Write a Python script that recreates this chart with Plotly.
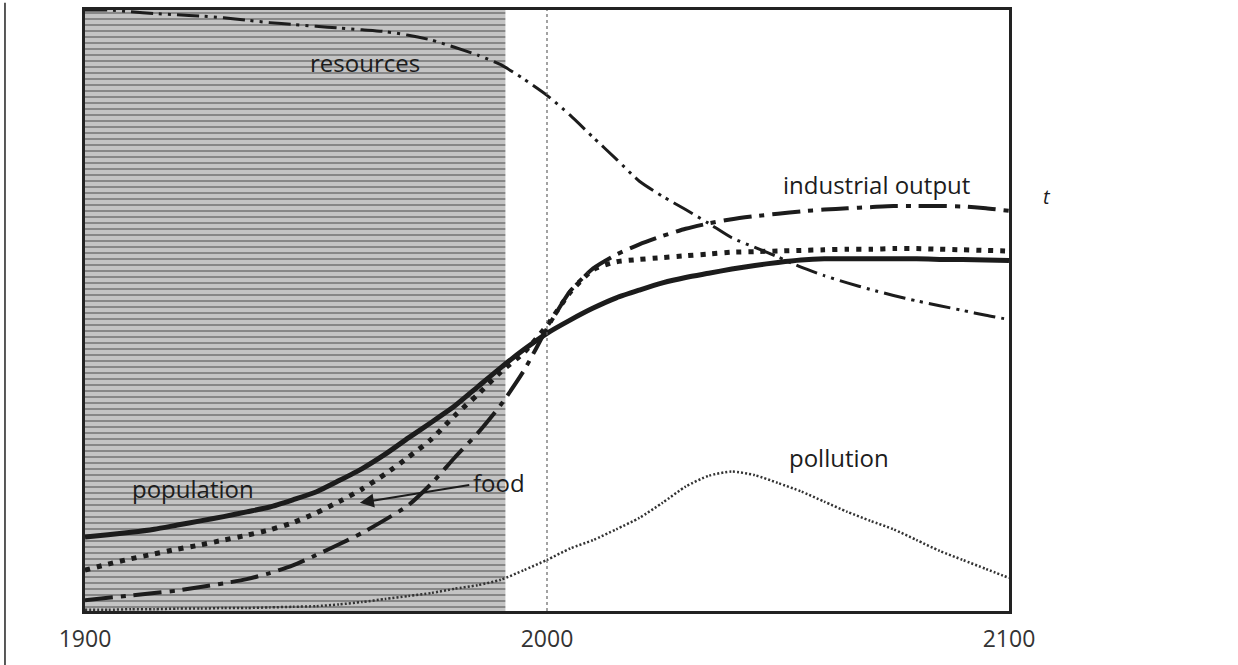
import plotly.graph_objects as go

# years on the x axis, one point every five years
years = list(range(1900, 2101, 5))

# values, scale 0 (bottom of frame) .. 100 (top of frame)
resources = [100, 100, 99.7, 99.4, 99.2, 99.0, 98.7, 98.3, 97.9, 97.6, 97.3,
             97.0, 96.7, 96.4, 95.8, 95.0, 93.8, 92.5, 90.9, 88.5, 85.8,
             82.5, 78.8, 75.2, 71.5, 69.0, 66.8, 64.5, 62.1, 60.5, 58.9,
             57.2, 55.8, 54.6, 53.5, 52.5, 51.6, 50.8, 50.0, 49.2, 48.5]
industrial_output = [1.8, 2.2, 2.6, 3.0, 3.4, 4.0, 4.6, 5.3, 6.3, 7.6, 9.3,
                     11.1, 13.0, 15.2, 17.6, 21.2, 25.5, 29.6, 34.3, 40.0, 47.0,
                     53.2, 57.0, 59.3, 61.0, 62.4, 63.6, 64.5, 65.2, 65.7, 66.1,
                     66.5, 66.8, 67.0, 67.2, 67.4, 67.4, 67.4, 67.3, 67.0, 66.6]
food = [6.8, 7.8, 8.7, 9.5, 10.3, 11.0, 11.8, 12.6, 13.5, 14.7, 16.3,
        18.2, 20.3, 22.8, 25.6, 28.6, 32.5, 36.0, 39.8, 43.0, 47.5,
        53.0, 56.8, 58.1, 58.5, 58.8, 59.1, 59.4, 59.7, 59.8, 59.9,
        60.0, 60.1, 60.2, 60.2, 60.3, 60.3, 60.2, 60.1, 60.0, 59.9]
population = [12.3, 12.7, 13.1, 13.6, 14.3, 15.0, 15.7, 16.5, 17.3, 18.5, 19.8,
              21.7, 23.7, 26.1, 28.8, 31.4, 34.1, 37.3, 40.5, 43.5, 46.2,
              48.4, 50.4, 52.1, 53.4, 54.6, 55.5, 56.2, 56.9, 57.5, 58.0,
              58.4, 58.6, 58.6, 58.6, 58.6, 58.6, 58.5, 58.5, 58.4, 58.3]
pollution = [0.2, 0.2, 0.3, 0.3, 0.4, 0.4, 0.5, 0.5, 0.6, 0.7, 0.8,
             1.1, 1.5, 2.0, 2.5, 3.0, 3.7, 4.3, 5.2, 6.8, 8.5,
             10.4, 11.8, 13.6, 15.5, 18.0, 20.7, 22.5, 23.2, 22.6, 21.3,
             19.9, 18.2, 16.5, 15.0, 13.6, 11.8, 10.0, 8.5, 7.0, 5.5]

# shaded historical period
shade_from, shade_to = 1900, 1991
tick_years = [1900, 2000, 2100]

ink = '#1c1c1c'
fnt = 'Open Sans'

fig = go.Figure()

# shaded (historical) block, grey with horizontal streaks
fig.add_trace(go.Scatter(
    x=[shade_from, shade_to, shade_to, shade_from, shade_from],
    y=[0, 0, 100, 100, 0], mode='none', fill='toself',
    fillcolor='#c4c4c4',
    fillpattern=dict(shape='-', fgcolor='#3c3c3c', bgcolor='#c4c4c4', size=6, solidity=0.3),
    hoverinfo='skip', showlegend=False))

# curves
series = [
    ('pollution', pollution, dict(color='#333', width=2.5, dash='2px,2px')),
    ('resources', resources, dict(color=ink, width=3, dash='22px,6px,3px,6px,3px,6px')),
    ('industrial output', industrial_output, dict(color=ink, width=4, dash='28px,8px,5px,8px')),
    ('food', food, dict(color=ink, width=5, dash='5px,7px')),
    ('population', population, dict(color=ink, width=5)),
]
for name, vals, ln in series:
    fig.add_trace(go.Scatter(x=years, y=vals, mode='lines', name=name,
                             line=dict(shape='spline', smoothing=0.6, **ln),
                             showlegend=False))

# dotted vertical line at 2000
fig.add_shape(type='line', x0=2000, x1=2000, y0=0, y1=100, xref='x', yref='y',
              line=dict(color='#666', width=1.2, dash='dot'))
# page edge line on the left
fig.add_shape(type='line', x0=-0.0866, x1=-0.0866, y0=-0.09, y1=1.012, xref='paper', yref='paper',
              line=dict(color='#222', width=1.5))

labels = [
    ('resources', 1960.6, 91.2),
    ('industrial output', 2071.4, 71.0),
    ('population', 1923.4, 20.4),
    ('food', 1989.6, 21.4),
    ('pollution', 2063.2, 25.5),
]
for txt, xx, yy in labels:
    fig.add_annotation(x=xx, y=yy, text=txt, showarrow=False,
                       font=dict(family=fnt, size=24, color=ink))
# small stray mark right of the frame
fig.add_annotation(x=1.048, y=0.715, xref='paper', yref='paper', text='<i>t</i>',
                   showarrow=False, font=dict(family=fnt, size=20, color=ink))

# arrow from the food label to the food curve
fig.add_annotation(x=1959.5, y=18.0, ax=1983.5, ay=21.0, xref='x', yref='y',
                   axref='x', ayref='y', text='', showarrow=True,
                   arrowhead=2, arrowsize=1.4, arrowwidth=2, arrowcolor=ink)

fig.update_layout(
    width=1238, height=665,
    margin=dict(l=85, r=229, t=7, b=54),
    paper_bgcolor='white', plot_bgcolor='white',
    xaxis=dict(range=[1900, 2100], tickvals=tick_years, ticktext=[str(t) for t in tick_years],
               ticks='outside', ticklen=5, tickcolor='rgba(0,0,0,0)',
               showgrid=False, zeroline=False, showline=True, mirror=True,
               linecolor='#222', linewidth=3,
               tickfont=dict(family=fnt, size=23, color='#333')),
    yaxis=dict(range=[0, 100], showticklabels=False, ticks='', showgrid=False,
               zeroline=False, showline=True, mirror=True, linecolor='#222', linewidth=3),
)

# the page body has a default margin, drop it so the figure sits at 0,0
fig.write_html('out.html', config={'displayModeBar': False},
               post_script="document.body.style.margin='0px';")
